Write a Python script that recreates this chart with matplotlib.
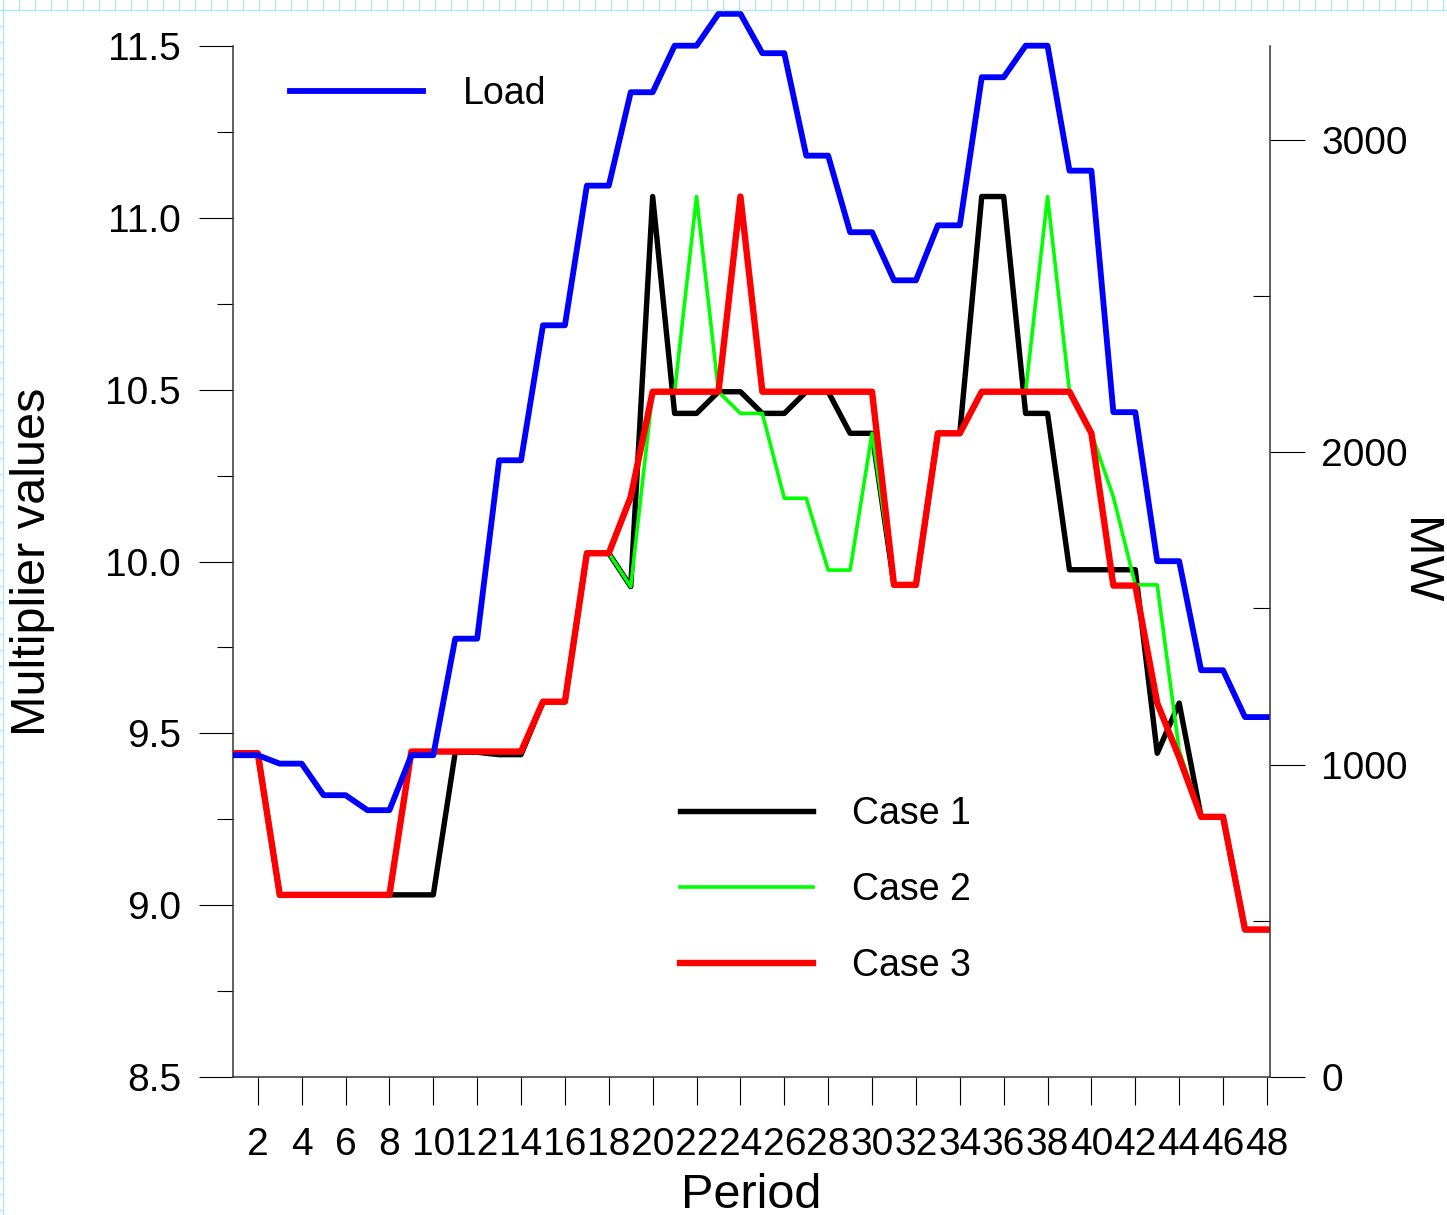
import numpy as np
import matplotlib.pyplot as plt
from matplotlib.lines import Line2D
from matplotlib.ticker import MultipleLocator, FormatStrFormatter

plt.rcParams['font.family'] = ['Liberation Sans', 'DejaVu Sans']

# --- data ---
periods = np.arange(1, 49)

load_mw = [1030, 1030, 1003, 1003, 902, 902, 854, 854, 1030, 1030,
           1403, 1403, 1974, 1974, 2406, 2406, 2853, 2853, 3152, 3152,
           3301, 3301, 3403, 3403, 3277, 3277, 2949, 2949, 2704, 2704,
           2550, 2550, 2726, 2726, 3200, 3200, 3301, 3301, 2901, 2901,
           2128, 2128, 1651, 1651, 1302, 1302, 1152, 1152]

case1 = [9.442, 9.442, 9.030, 9.030, 9.030, 9.030, 9.030, 9.030, 9.030, 9.030,
         9.445, 9.445, 9.438, 9.438, 9.592, 9.592, 10.024, 10.024, 9.927, 11.062,
         10.431, 10.431, 10.494, 10.494, 10.431, 10.431, 10.494, 10.494, 10.373, 10.373,
         9.932, 9.932, 10.373, 10.373, 11.062, 11.062, 10.431, 10.431, 9.976, 9.976,
         9.976, 9.976, 9.442, 9.588, 9.257, 9.257, 8.929, 8.929]

case2 = [9.442, 9.442, 9.030, 9.030, 9.030, 9.030, 9.030, 9.030, 9.447, 9.447,
         9.447, 9.447, 9.447, 9.447, 9.592, 9.592, 10.024, 10.024, 9.927, 10.494,
         10.494, 11.062, 10.494, 10.431, 10.431, 10.184, 10.184, 9.975, 9.975, 10.373,
         9.932, 9.932, 10.373, 10.373, 10.494, 10.494, 10.494, 11.062, 10.494, 10.373,
         10.188, 9.932, 9.932, 9.450, 9.257, 9.257, 8.929, 8.929]

case3 = [9.442, 9.442, 9.030, 9.030, 9.030, 9.030, 9.030, 9.030, 9.447, 9.447,
         9.447, 9.447, 9.447, 9.447, 9.592, 9.592, 10.024, 10.024, 10.188, 10.494,
         10.494, 10.494, 10.494, 11.062, 10.494, 10.494, 10.494, 10.494, 10.494, 10.494,
         9.932, 9.932, 10.373, 10.373, 10.494, 10.494, 10.494, 10.494, 10.494, 10.373,
         9.930, 9.930, 9.588, 9.430, 9.257, 9.257, 8.929, 8.929]

W, H = 1447, 1215
fig = plt.figure(figsize=(W / 100, H / 100), dpi=100)

# faint ruler along the top and left edges of the original screenshot
ruler = '#aee6f6'
fig.add_artist(Line2D([0, 1], [1 - 10 / H] * 2, color=ruler, lw=1))
fig.add_artist(Line2D([3 / W] * 2, [0, 1 - 10 / H], color=ruler, lw=1))
for px in np.arange(2.7, W, 16):
    fig.add_artist(Line2D([px / W] * 2, [1, 1 - 10 / H], color=ruler, lw=1))
for py in np.arange(26, H, 16):
    fig.add_artist(Line2D([0, 3 / W], [1 - py / H] * 2, color=ruler, lw=1))

ax = fig.add_axes([233 / W, 1 - 1077 / H, (1270 - 233) / W, (1077 - 46) / H])
ax2 = ax.twinx()

l1, = ax.plot(periods, case1, color='black', lw=3.9, solid_joinstyle='round', zorder=2)
l2, = ax.plot(periods, case2, color='#00ff00', lw=2.6, solid_joinstyle='round', zorder=3)
l3, = ax.plot(periods, case3, color='#ff0000', lw=4.6, solid_joinstyle='round', zorder=4)
lb, = ax2.plot(periods, load_mw, color='#0000ff', lw=4.2, solid_joinstyle='round', clip_on=False)

ax.set_xlim(0.87, 48.14)
ax.set_ylim(8.5, 11.5)
ax2.set_ylim(0, 3300)

ax.set_xticks(range(2, 49, 2))
ax.tick_params(axis='x', direction='out', length=20, width=0.8, pad=16, labelsize=28)
ax.yaxis.set_major_locator(MultipleLocator(0.5))
ax.yaxis.set_minor_locator(MultipleLocator(0.25))
ax.yaxis.set_major_formatter(FormatStrFormatter('%.1f'))
ax.tick_params(axis='y', which='major', direction='out', length=24.5, width=0.8, pad=13, labelsize=28)
ax.tick_params(axis='y', which='minor', direction='out', length=11.5, width=0.8)

ax2.yaxis.set_major_locator(MultipleLocator(1000))
ax2.yaxis.set_minor_locator(MultipleLocator(500))
ax2.tick_params(axis='y', which='major', direction='out', length=25, width=0.8, pad=12, labelsize=28)
ax2.tick_params(axis='y', which='minor', direction='in', length=12, width=0.8)

for s in ['top', 'right']:
    ax.spines[s].set_visible(False)
for s in ['top', 'left', 'bottom']:
    ax2.spines[s].set_visible(False)
for sp in [ax.spines['left'], ax.spines['bottom'], ax2.spines['right']]:
    sp.set_linewidth(1.1)
    sp.set_color('#333333')

ax.set_ylabel('Multiplier values', fontsize=35, va='center')
ax.yaxis.set_label_coords(-0.193, 0.5)
ax.set_xlabel('Period', fontsize=35, va='center')
ax.xaxis.set_label_coords(0.5, -0.1145)
ax2.set_ylabel('MW', fontsize=35, rotation=270, va='center')
ax2.yaxis.set_label_coords(1.1434, 0.5)

leg1 = ax2.legend([lb], ['Load'], loc='center left', bbox_to_anchor=(290 / W, 1 - 94 / H),
                  bbox_transform=fig.transFigure, frameon=False, fontsize=27,
                  handlelength=3.55, handletextpad=1.05, borderpad=0, borderaxespad=0)
ax2.add_artist(leg1)
ax2.legend([l1, l2, l3], ['Case 1', 'Case 2', 'Case 3'], loc='center left',
           bbox_to_anchor=(680 / W, 1 - 890 / H), bbox_transform=fig.transFigure,
           frameon=False, fontsize=27, handlelength=3.55, handletextpad=1.05,
           labelspacing=1.06, borderpad=0, borderaxespad=0)

fig.savefig('out.png', dpi=100)
